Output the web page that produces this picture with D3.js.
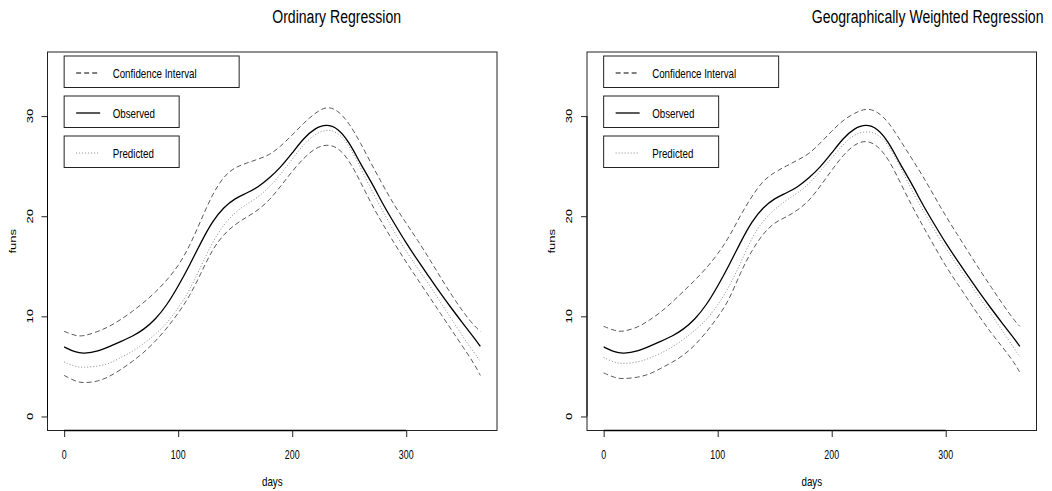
<!DOCTYPE html>
<html>
<head>
<meta charset="utf-8">
<script src="https://cdn.jsdelivr.net/npm/d3@7"></script>
<style>
    body { margin: 0; background: #fff; }
    text { font-family: "Liberation Sans", Arial, sans-serif; fill: #000; }
</style>
</head>
<body>
<div id="elements"></div>
<script>
// days sampled along the curves
var days = [0, 10, 17, 30, 40, 50, 60, 70, 80, 90, 100, 110, 120, 130, 140, 150, 160, 170, 180,
    190, 200, 210, 220, 230, 240, 250, 260, 270, 280, 290, 300, 310, 320, 330, 340, 350, 360, 365];

var observed = [6.95, 6.4, 6.27, 6.5, 7.0, 7.5, 8.0, 8.7, 9.7, 11.1, 13.0, 15.1, 17.4, 19.5, 20.9, 21.8, 22.3, 22.9, 23.8,
    24.9, 26.3, 27.8, 28.8, 29.2, 28.8, 27.4, 25.2, 23.3, 21.1, 19.2, 17.3, 15.6, 13.95, 12.3, 10.75, 9.25, 7.8, 7.0];

// ordinary regression
var olsPredicted = [5.45, 4.95, 4.9, 5.0, 5.3, 5.9, 6.5, 7.3, 8.2, 9.3, 10.8, 12.6, 15.0, 17.4, 19.2, 20.4, 21.2, 21.9, 22.9,
    24.2, 25.7, 27.2, 28.2, 28.7, 28.4, 27.1, 24.8, 22.5, 20.4, 18.3, 16.5, 14.8, 13.2, 11.4, 9.7, 7.9, 6.3, 5.5];
var olsUpper = [8.5, 8.05, 8.0, 8.5, 9.0, 9.7, 10.5, 11.4, 12.4, 13.6, 15.0, 17.0, 19.6, 22.2, 24.0, 24.9, 25.3, 25.7, 26.1,
    27.0, 28.1, 29.3, 30.3, 31.0, 30.6, 29.3, 27.3, 25.1, 23.0, 21.0, 19.3, 17.6, 15.8, 13.9, 12.1, 10.4, 9.0, 8.5];
var olsLower = [4.1, 3.5, 3.33, 3.5, 4.0, 4.7, 5.5, 6.4, 7.5, 8.8, 10.3, 12.0, 14.3, 16.7, 18.2, 19.2, 19.9, 20.6, 21.6,
    23.0, 24.5, 25.8, 26.8, 27.2, 26.9, 25.6, 23.4, 21.1, 19.1, 17.2, 15.4, 13.7, 12.0, 10.3, 8.6, 6.9, 5.2, 4.1];

// geographically weighted regression
var gwrPredicted = [5.9, 5.35, 5.27, 5.4, 5.8, 6.3, 6.9, 7.7, 8.6, 9.6, 11.1, 12.9, 15.3, 17.9, 19.6, 20.7, 21.6, 22.3, 23.2,
    24.5, 25.8, 27.2, 28.2, 28.5, 28.3, 27.1, 25.0, 22.6, 20.6, 18.6, 16.8, 15.1, 13.5, 11.8, 10.2, 8.5, 6.8, 5.95];
var gwrUpper = [9.0, 8.55, 8.45, 8.9, 9.6, 10.4, 11.4, 12.5, 13.6, 14.8, 16.2, 17.9, 20.1, 22.0, 23.6, 24.4, 25.0, 25.6, 26.2,
    27.3, 28.5, 29.6, 30.3, 30.8, 30.5, 29.4, 27.6, 25.8, 24.0, 22.0, 20.0, 18.2, 16.4, 14.6, 12.9, 11.2, 9.6, 9.0];
var gwrLower = [4.35, 3.85, 3.75, 3.9, 4.2, 4.8, 5.4, 6.1, 7.1, 8.4, 9.9, 11.6, 14.4, 16.6, 18.3, 19.4, 19.9, 20.6, 21.5,
    23.0, 24.6, 26.1, 27.2, 27.6, 27.1, 25.7, 23.4, 21.1, 19.0, 17.0, 15.0, 13.3, 11.6, 9.9, 8.3, 6.9, 5.4, 4.4];

var xTicks = [0, 100, 200, 300];
var yTicks = [0, 10, 20, 30];
var legendLabels = ["Confidence Interval", "Observed", "Predicted"];

var panels = [
    {title: "Ordinary Regression", predicted: olsPredicted, upper: olsUpper, lower: olsLower},
    {title: "Geographically Weighted Regression", predicted: gwrPredicted, upper: gwrUpper, lower: gwrLower}
];

var svg = d3.select("#elements").append("svg")
    .attr("width", 1052)
    .attr("height", 491);

// text in the original is squeezed horizontally
function label(g, str, x, y, size, k, anchor, rot) {
    return g.append("text")
        .attr("transform", "translate(" + x + "," + y + ") scale(" + k + ",1)" + (rot ? " rotate(-90)" : ""))
        .attr("text-anchor", anchor)
        .style("font-size", size + "px")
        .text(str);
}

var styles = {
    ci: {stroke: "#5a5a5a", width: 1, dash: "5,3"},
    obs: {stroke: "#000", width: 1.3, dash: null},
    pred: {stroke: "#8a8a8a", width: 1, dash: "1,2"}
};

function drawPanel(p, left) {
    var box = {x0: left, x1: left + 449.5, y0: 52, y1: 430.5};
    var g = svg.append("g");

    var x = d3.scaleLinear().domain([-14.6, 379.6]).range([box.x0, box.x1]);
    var y = d3.scaleLinear().domain([-1.4, 36.4]).range([box.y1, box.y0]);

    var line = d3.line()
        .x(function (d) { return x(d[0]); })
        .y(function (d) { return y(d[1]); })
        .curve(d3.curveBasis);

    var series = [
        {vals: p.upper, s: styles.ci},
        {vals: p.lower, s: styles.ci},
        {vals: p.predicted, s: styles.pred},
        {vals: observed, s: styles.obs}
    ];

    g.append("g")
        .selectAll("path")
        .data(series)
        .join("path")
        .attr("d", function (d) { return line(d3.zip(days, d.vals)); })
        .attr("fill", "none")
        .attr("stroke", function (d) { return d.s.stroke; })
        .attr("stroke-width", function (d) { return d.s.width; })
        .attr("stroke-dasharray", function (d) { return d.s.dash; });

    // plot box
    g.append("rect")
        .attr("x", box.x0)
        .attr("y", box.y0)
        .attr("width", box.x1 - box.x0)
        .attr("height", box.y1 - box.y0)
        .attr("fill", "none")
        .attr("stroke", "#222")
        .attr("stroke-width", 1);

    // axes, R style
    var xAxis = g.append("g")
        .attr("transform", "translate(0," + box.y1 + ")")
        .call(d3.axisBottom(x).tickValues(xTicks).tickSize(6.5).tickFormat(""));
    var yAxis = g.append("g")
        .attr("transform", "translate(" + box.x0 + ",0)")
        .call(d3.axisLeft(y).tickValues(yTicks).tickSize(6).tickFormat(""));
    xAxis.select(".domain").attr("d", "M" + x(0) + ",0H" + x(300)).attr("stroke-width", 1.4);
    yAxis.select(".domain").attr("d", "M0," + y(0) + "V" + y(30));
    g.selectAll(".tick line").attr("stroke", "#222");

    xTicks.forEach(function (t) {
        label(g, t, x(t), 459, 13, 0.68, "middle");
    });
    yTicks.forEach(function (t) {
        label(g, t, box.x0 - 15, y(t), 13, 0.75, "middle", true);
    });

    label(g, "days", (box.x0 + box.x1) / 2, 486, 13, 0.75, "middle");
    label(g, "funs", box.x0 - 32, (box.y0 + box.y1) / 2, 13, 0.75, "middle", true);
    label(g, p.title, (box.x0 + box.x1) / 2, 23, 19, 0.74, "start");

    // legends: three separate boxes
    var lx = x(0);
    var legendBoxes = [
        {top: 56, w: 175, s: styles.ci},
        {top: 96, w: 115, s: styles.obs},
        {top: 136, w: 115, s: styles.pred}
    ];
    var lg = g.append("g")
        .selectAll("g")
        .data(legendBoxes)
        .join("g")
        .attr("transform", function (d) { return "translate(" + lx + "," + d.top + ")"; });
    lg.append("rect")
        .attr("width", function (d) { return d.w; })
        .attr("height", 31.5)
        .attr("fill", "#fff")
        .attr("stroke", "#222")
        .attr("stroke-width", 1);
    lg.append("line")
        .attr("x1", 12).attr("x2", 36)
        .attr("y1", 17).attr("y2", 17)
        .attr("stroke", function (d, i) { return i == 2 ? "#888" : "#000"; })
        .attr("stroke-width", function (d, i) { return i == 1 ? 1.3 : 1; })
        .attr("stroke-dasharray", function (d, i) { return i == 0 ? "5,3" : d.s.dash; });
    lg.each(function (d, i) {
        label(d3.select(this), legendLabels[i], 48.5, 21.5, 13, 0.75, "start");
    });
}

drawPanel(panels[0], 47.5);
drawPanel(panels[1], 587);
</script>
</body>
</html>
